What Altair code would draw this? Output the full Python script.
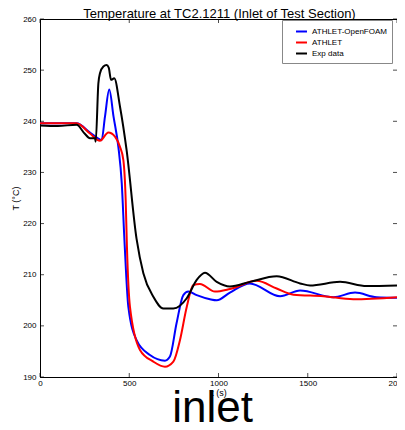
import altair as alt
import pandas as pd

series_names = ["ATHLET-OpenFOAM", "ATHLET", "Exp data"]
series_colors = ["#0000ff", "#ff0000", "#000000"]

t_foam = [0, 205, 280, 327, 345, 364, 388, 412, 439, 458, 473, 495, 541, 616, 700, 728, 765, 803, 831, 878, 952, 990, 1064, 1176, 1345, 1457, 1644, 1765, 1886, 2000]
T_foam = [239.6, 239.6, 237.8, 236.6, 236.3, 240.9, 246.2, 240.9, 235.0, 227.9, 216.8, 203.7, 197.2, 194.3, 193.2, 194.0, 200.5, 206.0, 206.7, 206.0, 205.2, 205.0, 206.5, 208.3, 205.8, 206.9, 205.6, 206.5, 205.6, 205.5]

t_athlet = [0, 205, 280, 336, 383, 420, 448, 467, 480, 487, 504, 560, 635, 700, 747, 784, 822, 859, 896, 980, 1064, 1214, 1326, 1420, 1588, 1755, 2000]
T_athlet = [239.6, 239.6, 237.6, 236.2, 237.8, 237.0, 235.0, 232.4, 224.6, 215.5, 203.7, 195.3, 193.0, 192.0, 193.0, 197.2, 203.7, 208.0, 208.2, 206.7, 207.2, 208.8, 207.3, 206.1, 205.8, 205.2, 205.6]

t_exp = [0, 100, 205, 250, 280, 308, 312, 327, 336, 355, 373, 385, 398, 416, 448, 485, 541, 579, 635, 691, 747, 822, 878, 924, 990, 1064, 1176, 1326, 1457, 1513, 1681, 1830, 2000]
T_exp = [239.2, 239.1, 239.3, 237.6, 236.7, 236.7, 236.0, 247.4, 249.4, 250.7, 251.0, 250.5, 248.1, 248.4, 242.9, 234.4, 217.0, 210.3, 205.7, 203.4, 203.4, 205.4, 209.0, 210.4, 208.6, 207.7, 208.6, 209.7, 208.3, 207.9, 208.6, 207.8, 207.9]

x_ticks = [0, 500, 1000, 1500, 2000]
y_ticks = [190, 200, 210, 220, 230, 240, 250, 260]

title_text = "Temperature at TC2.1211 (Inlet of Test Section)"
bottom_text = "inlet"

rows = []
for name, ts, Ts in [(series_names[0], t_foam, T_foam), (series_names[1], t_athlet, T_athlet), (series_names[2], t_exp, T_exp)]:
    for i, (a, b) in enumerate(zip(ts, Ts)):
        rows.append({"series": name, "t": a, "T": b, "order": i})
df = pd.DataFrame(rows)

W, H = 357, 358
FONT = "Liberation Sans"

xscale = alt.Scale(domain=[0, 2000], nice=False, zero=False)
yscale = alt.Scale(domain=[190, 260], nice=False, zero=False)

lines = alt.Chart(df).mark_line(strokeWidth=2, interpolate="monotone", clip=True).encode(
    x=alt.X("t:Q", scale=xscale, title="t (s)",
            axis=alt.Axis(values=x_ticks, format="d", grid=False, ticks=False, labelPadding=2,
                          titlePadding=1, labelFlush=False)),
    y=alt.Y("T:Q", scale=yscale, title="T (°C)",
            axis=alt.Axis(values=y_ticks, format="d", grid=False, ticks=False, labelPadding=4,
                          titlePadding=2)),
    color=alt.Color("series:N", scale=alt.Scale(domain=series_names, range=series_colors),
                    sort=series_names, title=None,
                    legend=alt.Legend(orient="none", legendX=242, legendY=1,
                                      symbolType="stroke", symbolStrokeWidth=2,
                                      symbolSize=120, labelFontSize=8, labelFont=FONT,
                                      strokeColor="#888888", fillColor="white", padding=5,
                                      rowPadding=0, labelOffset=4, symbolOffset=8)),
    detail="series:N",
    order="order:Q",
)

xt = pd.DataFrame({"v": x_ticks})
yt = pd.DataFrame({"v": y_ticks})
tick_bottom = alt.Chart(xt).mark_tick(orient="vertical", color="black", size=4, thickness=1).encode(
    x=alt.X("v:Q", scale=xscale), y=alt.value(H - 2))
tick_top = alt.Chart(xt).mark_tick(orient="vertical", color="black", size=4, thickness=1).encode(
    x=alt.X("v:Q", scale=xscale), y=alt.value(2))
tick_left = alt.Chart(yt).mark_tick(orient="horizontal", color="black", size=4, thickness=1).encode(
    y=alt.Y("v:Q", scale=yscale), x=alt.value(2))
tick_right = alt.Chart(yt).mark_tick(orient="horizontal", color="black", size=4, thickness=1).encode(
    y=alt.Y("v:Q", scale=yscale), x=alt.value(W - 2))

big = alt.Chart(pd.DataFrame({"txt": [bottom_text]})).mark_text(
    fontSize=44, font=FONT, color="black", baseline="alphabetic", align="center").encode(
    text="txt:N", x=alt.value(W / 2 - 6), y=alt.value(H + 45))

top_title = alt.Chart(pd.DataFrame({"txt": [title_text]})).mark_text(
    fontSize=13, font=FONT, color="black", baseline="alphabetic", align="center").encode(
    text="txt:N", x=alt.value(W / 2 + 1), y=alt.value(-1))

chart = alt.layer(lines, tick_bottom, tick_top, tick_left, tick_right, big, top_title).properties(
    width=W, height=H,
    autosize=alt.AutoSizeParams(type="none"),
    padding={"left": 32, "top": 11, "right": 0, "bottom": 45},
).configure_view(stroke="black", strokeWidth=1).configure_axis(
    labelFont=FONT, labelFontSize=8, labelColor="black", titleFont=FONT, titleFontSize=9,
    titleFontWeight="normal", titleColor="black", domainColor="black", domainWidth=1,
)

chart.save("out.html", embed_options={"renderer": "svg", "actions": False})
